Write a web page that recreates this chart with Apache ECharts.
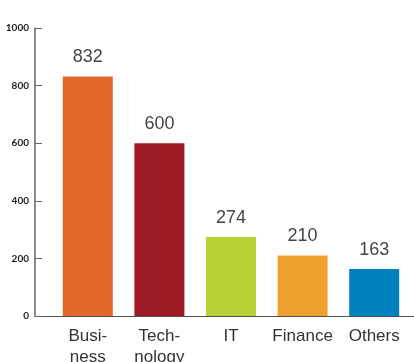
<!DOCTYPE html>
<html><head><meta charset="utf-8">
<script src="https://cdn.jsdelivr.net/npm/echarts@6/dist/echarts.min.js"></script>
<style>html,body{margin:0;padding:0;background:#fff}#c{width:414px;height:362px}</style>
</head><body><div id="c"></div>
<script>
const categories = ['Busi-\nness', 'Tech-\nnology', 'IT', 'Finance', 'Others'];
const values = [832, 600, 274, 210, 163];
const colors = ['#E3662A', '#9E1A24', '#B8D136', '#EEA12E', '#0080BE'];
const yTicks = [0, 200, 400, 600, 800, 1000];

const chart = echarts.init(document.getElementById('c'));
chart.setOption({
  animation: false,
  grid: [
    {left: 52, right: 4, top: 28, bottom: 46, outerBoundsMode: 'none', containLabel: false},
    {left: 35, right: 0, top: 28, bottom: 46, outerBoundsMode: 'none', containLabel: false}
  ],
  xAxis: [{
    type: 'category', gridIndex: 0, data: categories,
    axisLine: {show: false}, axisTick: {show: false},
    axisLabel: {color: '#333', fontSize: 17, fontFamily: 'Liberation Sans', lineHeight: 21, margin: 10, interval: 0}
  }, {
    type: 'value', gridIndex: 1, min: 0, max: 1,
    axisLine: {show: true, lineStyle: {color: '#555', width: 1}},
    axisTick: {show: false}, axisLabel: {show: false}, splitLine: {show: false}
  }],
  yAxis: [{
    type: 'value', gridIndex: 0, min: 0, max: 1000, interval: 200, offset: 17,
    axisLine: {show: true, lineStyle: {color: '#666', width: 1.5}},
    axisTick: {show: true, inside: true, length: 7, lineStyle: {color: '#666'}},
    axisLabel: {color: '#222', fontSize: 10, fontWeight: 'bold', fontFamily: 'Lato', margin: 6,
      formatter: v => yTicks.includes(v) ? String(v) : ''},
    splitLine: {show: false}
  }, {
    type: 'value', gridIndex: 1, show: false, min: 0, max: 1
  }],
  series: [{
    type: 'bar', xAxisIndex: 0, yAxisIndex: 0, barWidth: 50,
    data: values.map((v, i) => ({value: v, itemStyle: {color: colors[i]}})),
    label: {show: true, position: 'top', distance: 10, color: '#444', fontSize: 18, fontFamily: 'Liberation Sans'}
  }]
});
</script></body></html>
